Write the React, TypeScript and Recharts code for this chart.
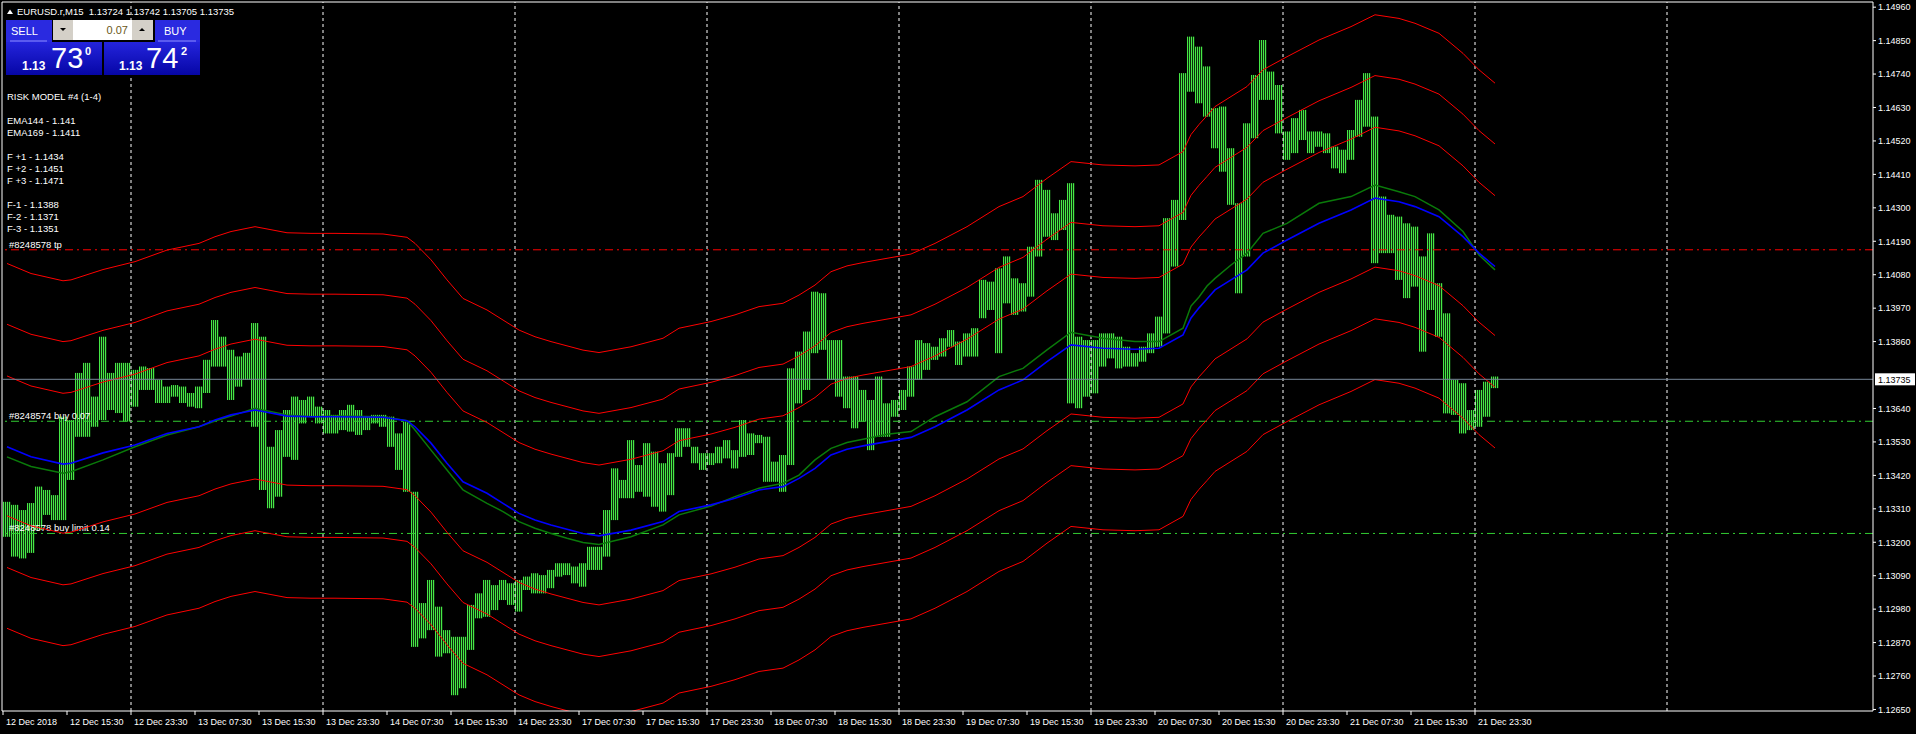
import React from 'react';
import { ComposedChart, Bar, Line, XAxis, YAxis, ReferenceLine } from 'recharts';

// ---- price samples (each sample = 4 consecutive M15 bars), high / low ----
const sampleHigh = [
  1.13333, 1.13323, 1.13306, 1.13329, 1.13383, 1.13372, 1.13355, 1.13613, 1.13602, 1.13757,
  1.13790, 1.13679, 1.13876, 1.13757, 1.13790, 1.13790, 1.13767, 1.13778, 1.13773, 1.13734,
  1.13712, 1.13717, 1.13712, 1.13691, 1.13712, 1.13800, 1.13931, 1.13876, 1.13833, 1.13811,
  1.13823, 1.13921, 1.13876, 1.13514, 1.13569, 1.13635, 1.13679, 1.13668, 1.13679, 1.13646,
  1.13635, 1.13619, 1.13635, 1.13652, 1.13635, 1.13613, 1.13619, 1.13619, 1.13613, 1.13558,
  1.13597, 1.13366, 1.13000, 1.13076, 1.12988, 1.12911, 1.12889, 1.12889, 1.12994, 1.13032,
  1.13076, 1.13059, 1.13076, 1.13065, 1.13076, 1.13087, 1.13098, 1.13092, 1.13109, 1.13131,
  1.13131, 1.13120, 1.13131, 1.13185, 1.13185, 1.13306, 1.13443, 1.13405, 1.13536, 1.13454,
  1.13526, 1.13498, 1.13460, 1.13493, 1.13575, 1.13575, 1.13514, 1.13493, 1.13493, 1.13514,
  1.13536, 1.13503, 1.13602, 1.13558, 1.13553, 1.13547, 1.13465, 1.13487, 1.13772, 1.13827,
  1.13893, 1.14024, 1.14019, 1.13865, 1.13865, 1.13745, 1.13745, 1.13701, 1.13668, 1.13745,
  1.13657, 1.13668, 1.13701, 1.13778, 1.13865, 1.13855, 1.13843, 1.13871, 1.13898, 1.13860,
  1.13887, 1.13904, 1.14063, 1.14057, 1.14101, 1.14140, 1.14068, 1.14052, 1.14172, 1.14392,
  1.14359, 1.14282, 1.14326, 1.14381, 1.13876, 1.13865, 1.13865, 1.13887, 1.13887, 1.13876,
  1.13843, 1.13822, 1.13843, 1.13887, 1.13942, 1.14266, 1.14326, 1.14743, 1.14863, 1.14830,
  1.14765, 1.14628, 1.14633, 1.14496, 1.14315, 1.14578, 1.14737, 1.14852, 1.14748, 1.14704,
  1.14551, 1.14595, 1.14622, 1.14551, 1.14551, 1.14545, 1.14501, 1.14491, 1.14556, 1.14655,
  1.14743, 1.14600, 1.14337, 1.14277, 1.14271, 1.14249, 1.14238, 1.14140, 1.14216, 1.14052,
  1.13953, 1.13734, 1.13723, 1.13635, 1.13701, 1.13728, 1.13745,
];
const sampleLow = [
  1.13218, 1.13153, 1.13147, 1.13165, 1.13240, 1.13290, 1.13273, 1.13273, 1.13405, 1.13547,
  1.13547, 1.13580, 1.13602, 1.13635, 1.13625, 1.13597, 1.13646, 1.13701, 1.13701, 1.13658,
  1.13658, 1.13679, 1.13658, 1.13646, 1.13641, 1.13691, 1.13778, 1.13778, 1.13668, 1.13712,
  1.13734, 1.13580, 1.13372, 1.13312, 1.13350, 1.13481, 1.13471, 1.13591, 1.13613, 1.13591,
  1.13558, 1.13558, 1.13569, 1.13564, 1.13553, 1.13569, 1.13591, 1.13580, 1.13514, 1.13438,
  1.13366, 1.12856, 1.12884, 1.12911, 1.12824, 1.12835, 1.12697, 1.12720, 1.12846, 1.12950,
  1.12955, 1.12977, 1.13010, 1.12994, 1.12972, 1.13043, 1.13032, 1.13032, 1.13049, 1.13087,
  1.13092, 1.13065, 1.13054, 1.13109, 1.13109, 1.13153, 1.13273, 1.13345, 1.13345, 1.13366,
  1.13350, 1.13317, 1.13301, 1.13355, 1.13481, 1.13514, 1.13460, 1.13438, 1.13454, 1.13460,
  1.13476, 1.13443, 1.13481, 1.13487, 1.13526, 1.13399, 1.13399, 1.13366, 1.13454, 1.13657,
  1.13701, 1.13822, 1.13833, 1.13734, 1.13679, 1.13641, 1.13575, 1.13597, 1.13503, 1.13547,
  1.13547, 1.13613, 1.13635, 1.13679, 1.13734, 1.13767, 1.13800, 1.13811, 1.13843, 1.13783,
  1.13811, 1.13811, 1.13937, 1.13964, 1.13822, 1.13986, 1.13948, 1.13959, 1.14008, 1.14140,
  1.14205, 1.14194, 1.14227, 1.13657, 1.13641, 1.13679, 1.13690, 1.13778, 1.13805, 1.13772,
  1.13778, 1.13778, 1.13794, 1.13822, 1.13843, 1.13887, 1.14107, 1.14260, 1.14682, 1.14644,
  1.14600, 1.14496, 1.14419, 1.14310, 1.14019, 1.14140, 1.14529, 1.14655, 1.14655, 1.14545,
  1.14458, 1.14480, 1.14523, 1.14480, 1.14501, 1.14480, 1.14430, 1.14414, 1.14458, 1.14534,
  1.14567, 1.14118, 1.14151, 1.14151, 1.14063, 1.14003, 1.14041, 1.13827, 1.13964, 1.13876,
  1.13624, 1.13619, 1.13558, 1.13569, 1.13580, 1.13613, 1.13707,
];

// ---- moving averages, read at selected sample positions ----
const emaSamples = [
  0, 3, 7, 8, 12, 16, 20, 24, 26, 28, 31, 32, 35, 38, 41, 47, 50, 51, 53, 55, 57, 60, 62, 64, 66,
  68, 70, 72, 74, 78, 82, 84, 88, 91, 94, 97, 99, 101, 103, 105, 107, 110, 113, 116, 120, 124,
  127, 130, 133, 137, 141, 144, 147, 148, 149, 150, 151, 153, 155, 157, 160, 164, 168, 171, 174,
  176, 179, 182, 184, 186,
];
const emaBlue = [
  1.13514, 1.13481, 1.13457, 1.13460, 1.13494, 1.13520, 1.13558, 1.13580, 1.13602, 1.13619,
  1.13635, 1.13630, 1.13615, 1.13613, 1.13613, 1.13611, 1.13600, 1.13580, 1.13526, 1.13460,
  1.13399, 1.13361, 1.13328, 1.13295, 1.13273, 1.13257, 1.13243, 1.13229, 1.13221, 1.13240,
  1.13268, 1.13301, 1.13323, 1.13345, 1.13372, 1.13383, 1.13410, 1.13443, 1.13487, 1.13506,
  1.13517, 1.13531, 1.13545, 1.13580, 1.13635, 1.13701, 1.13734, 1.13794, 1.13849, 1.13838,
  1.13835, 1.13838, 1.13882, 1.13938, 1.13971, 1.14000, 1.14030, 1.14063, 1.14096, 1.14151,
  1.14194, 1.14249, 1.14293, 1.14332, 1.14320, 1.14304, 1.14271, 1.14205, 1.14151, 1.14107,
];
const emaGreen = [
  1.13481, 1.13449, 1.13427, 1.13432, 1.13471, 1.13514, 1.13553, 1.13580, 1.13599, 1.13615,
  1.13641, 1.13635, 1.13619, 1.13613, 1.13615, 1.13613, 1.13600, 1.13569, 1.13503, 1.13438,
  1.13372, 1.13328, 1.13301, 1.13268, 1.13246, 1.13229, 1.13213, 1.13199, 1.13193, 1.13218,
  1.13257, 1.13290, 1.13319, 1.13350, 1.13378, 1.13394, 1.13421, 1.13471, 1.13509, 1.13528,
  1.13539, 1.13555, 1.13564, 1.13613, 1.13662, 1.13745, 1.13772, 1.13833, 1.13891, 1.13871,
  1.13860, 1.13860, 1.13904, 1.13977, 1.14007, 1.14043, 1.14068, 1.14112, 1.14151, 1.14216,
  1.14249, 1.14315, 1.14337, 1.14375, 1.14353, 1.14337, 1.14293, 1.14222, 1.14145, 1.14096,
];
// envelope levels relative to the average (F+3, F+2, F+1, F-1, F-2, F-3)
const bandOffsets = [0.00603, 0.00403, 0.00233, -0.00227, -0.00397, -0.00597];

// ---- axes ----
const timeLabels = [
  '12 Dec 2018', '12 Dec 15:30', '12 Dec 23:30', '13 Dec 07:30', '13 Dec 15:30', '13 Dec 23:30',
  '14 Dec 07:30', '14 Dec 15:30', '14 Dec 23:30', '17 Dec 07:30', '17 Dec 15:30', '17 Dec 23:30',
  '18 Dec 07:30', '18 Dec 15:30', '18 Dec 23:30', '19 Dec 07:30', '19 Dec 15:30', '19 Dec 23:30',
  '20 Dec 07:30', '20 Dec 15:30', '20 Dec 23:30', '21 Dec 07:30', '21 Dec 15:30', '21 Dec 23:30',
];
const timeTickIdx = timeLabels.map((_, n) => n * 32);
const gridIdx = [64, 160, 256, 352, 448, 544, 640, 736, 832];
const priceTicks = [
  1.1496, 1.1485, 1.1474, 1.1463, 1.1452, 1.1441, 1.143, 1.1419, 1.1408, 1.1397, 1.1386,
  1.1364, 1.1353, 1.1342, 1.1331, 1.132, 1.1309, 1.1298, 1.1287, 1.1276, 1.1265,
];

// ---- order levels & info ----
const tpLevel = 1.14162;
const buyLevel = 1.13598;
const buyLimitLevel = 1.13229;
const lastPrice = 1.13736;
const headerText = 'EURUSD.r,M15\u00A0\u00A01.13724\u00A01.13742\u00A01.13705\u00A01.13735';
const infoLines = [
  { t: 'RISK MODEL #4 (1-4)', y: 100 },
  { t: 'EMA144 - 1.141', y: 124 },
  { t: 'EMA169 - 1.1411', y: 136 },
  { t: 'F +1 - 1.1434', y: 160 },
  { t: 'F +2 - 1.1451', y: 172 },
  { t: 'F +3 - 1.1471', y: 184 },
  { t: 'F-1 - 1.1388', y: 208 },
  { t: 'F-2 - 1.1371', y: 220 },
  { t: 'F-3 - 1.1351', y: 232 },
];

const FONT = '"Liberation Sans", Arial, sans-serif';
const BAR_COLOR = '#46e846';
const BAR_FILL = '#32CD32';

const rows: any[] = sampleHigh.map((h, k) => ({ i: 4 * k + 2, hl: [sampleLow[k], h] }));
emaSamples.forEach((k, j) => {
  rows[k].blue = emaBlue[j];
  rows[k].green = emaGreen[j];
});

const StripeBar = (props: any) => {
  const { x, y, width, height } = props;
  if (x == null || y == null || isNaN(x) || isNaN(y)) return null;
  const top = height < 0 ? y + height : y;
  const h = Math.max(1, Math.abs(height));
  const cx = Math.round(x + width / 2);
  const out = [];
  out.push(<rect key="bg" x={cx - 4} y={top} width={8} height={h} fill={BAR_FILL} fillOpacity={0.22} />);
  for (let j = 0; j < 4; j++) {
    out.push(<rect key={j} x={cx - 4 + j * 2} y={top} width={1} height={h} fill={BAR_COLOR} />);
  }
  return <g>{out}</g>;
};

const XTick = (props: any) => {
  const { x, y, payload } = props;
  const n = Math.round(payload.value / 32);
  return (
    <text x={x + 3} y={y + 8} fill="#fff" fontSize={9} fontFamily={FONT} textAnchor="start">
      {timeLabels[n]}
    </text>
  );
};

const YTick = (props: any) => {
  const { x, y, payload } = props;
  return (
    <text x={x} y={y + 3.3} fill="#fff" fontSize={9} fontFamily={FONT} textAnchor="start">
      {Number(payload.value).toFixed(5)}
    </text>
  );
};

const OrderLabel = (props: any) => {
  const { viewBox, text } = props;
  if (!viewBox) return null;
  return (
    <text x={viewBox.x + 7} y={viewBox.y - 2} fill="#fff" fontSize={9.5} fontFamily={FONT}>
      {text}
    </text>
  );
};

const PriceBox = (props: any) => {
  const { viewBox, text } = props;
  if (!viewBox) return null;
  const x0 = viewBox.x + viewBox.width + 2;
  return (
    <g>
      <rect x={x0} y={viewBox.y - 6} width={40} height={12} fill="#fff" />
      <text x={x0 + 3} y={viewBox.y + 3.5} fill="#000" fontSize={9} fontFamily={FONT}>
        {text}
      </text>
    </g>
  );
};

const Overlay = () => (
  <svg
    width={1916}
    height={734}
    style={{ position: 'absolute', left: 0, top: 0, pointerEvents: 'none' }}
  >
    <defs>
      <linearGradient id="priceBlock" x1="0" y1="0" x2="0" y2="1">
        <stop offset="0" stopColor="#2424dc" />
        <stop offset="1" stopColor="#0606a6" />
      </linearGradient>
    </defs>
    {/* header */}
    <path d="M7 14 L10 9.5 L13 14 Z" fill="#fff" />
    <text x={17} y={15} fill="#fff" fontSize={9.5} fontFamily={FONT}>
      {headerText}
    </text>
    {/* one-click panel */}
    <rect x={6} y={20} width={46} height={22} fill="#2a2ae0" />
    <line x1={10} y1={41} x2={47} y2={41} stroke="#8c8cff" />
    <text x={11} y={35} fill="#fff" fontSize={11} fontFamily={FONT}>SELL</text>
    <rect x={155} y={20} width={45} height={22} fill="#2a2ae0" />
    <line x1={158} y1={41} x2={196} y2={41} stroke="#8c8cff" />
    <text x={164} y={35} fill="#fff" fontSize={11} fontFamily={FONT}>BUY</text>
    <rect x={53} y={20} width={20} height={20} fill="#d4d0c8" />
    <path d="M60 28 L66 28 L63 31 Z" fill="#000" />
    <rect x={73} y={20} width={59} height={20} fill="#fff" />
    <text x={128} y={34} fill="#6a5818" fontSize={11} fontFamily={FONT} textAnchor="end">0.07</text>
    <rect x={132} y={20} width={21} height={20} fill="#d4d0c8" />
    <path d="M139 31 L145 31 L142 28 Z" fill="#000" />
    <rect x={6} y={42} width={96} height={33} fill="url(#priceBlock)" />
    <rect x={104} y={42} width={96} height={33} fill="url(#priceBlock)" />
    <text x={22} y={70} fill="#fff" fontSize={12} fontWeight="bold" fontFamily={FONT}>1.13</text>
    <text x={51} y={68} fill="#fff" fontSize={29} fontFamily={FONT}>73</text>
    <text x={85} y={55} fill="#fff" fontSize={11} fontWeight="bold" fontFamily={FONT}>0</text>
    <text x={119} y={70} fill="#fff" fontSize={12} fontWeight="bold" fontFamily={FONT}>1.13</text>
    <text x={146} y={68} fill="#fff" fontSize={29} fontFamily={FONT}>74</text>
    <text x={181} y={55} fill="#fff" fontSize={11} fontWeight="bold" fontFamily={FONT}>2</text>
    {/* info block */}
    {infoLines.map((l) => (
      <text key={l.t} x={7} y={l.y} fill="#fff" fontSize={9.5} fontFamily={FONT}>
        {l.t}
      </text>
    ))}
  </svg>
);

export default function App() {
  return (
    <div style={{ position: 'absolute', left: 0, top: 0, width: 1916, height: 734, background: '#000' }}>
      <ComposedChart
        width={1916}
        height={734}
        data={rows}
        margin={{ top: 2, right: 0, left: 2, bottom: 0 }}
        style={{ background: '#000' }}
      >
        <XAxis
          type="number"
          dataKey="i"
          domain={[-0.5, 935]}
          ticks={timeTickIdx}
          interval={0}
          allowDataOverflow
          height={23}
          tickSize={4}
          axisLine={{ stroke: '#fff' }}
          tickLine={{ stroke: '#fff' }}
          tick={<XTick />}
        />
        <YAxis
          orientation="right"
          type="number"
          domain={[1.12645, 1.14977]}
          ticks={priceTicks}
          interval={0}
          allowDataOverflow
          width={43}
          tickSize={3}
          axisLine={{ stroke: '#fff' }}
          tickLine={{ stroke: '#fff' }}
          tick={<YTick />}
        />
        <ReferenceLine x={-0.5} stroke="#fff" />
        <ReferenceLine y={1.14977} stroke="#fff" />
        {gridIdx.map((g) => (
          <ReferenceLine key={'g' + g} x={g} stroke="#fff" strokeDasharray="3 3" />
        ))}
        <ReferenceLine
          y={tpLevel}
          stroke="#ff0000"
          strokeDasharray="8 4 2 4"
          label={<OrderLabel text="#8248578 tp" />}
        />
        <ReferenceLine
          y={buyLevel}
          stroke="#32CD32"
          strokeDasharray="8 4 2 4"
          label={<OrderLabel text="#8248574 buy 0.07" />}
        />
        <ReferenceLine
          y={buyLimitLevel}
          stroke="#32CD32"
          strokeDasharray="8 4 2 4"
          label={<OrderLabel text="#8248578 buy limit 0.14" />}
        />
        {bandOffsets.map((off, n) => (
          <Line
            key={'band' + n}
            dataKey={(d: any) => (d.blue == null ? null : d.blue + off)}
            stroke="#ff0000"
            strokeWidth={1}
            dot={false}
            connectNulls
            isAnimationActive={false}
          />
        ))}
        <Line dataKey="green" stroke="#0a7a0a" strokeWidth={1.5} dot={false} connectNulls isAnimationActive={false} />
        <Line dataKey="blue" stroke="#0000ff" strokeWidth={1.6} dot={false} connectNulls isAnimationActive={false} />
        <Bar dataKey="hl" barSize={8} shape={<StripeBar />} isAnimationActive={false} />
        <ReferenceLine y={lastPrice} stroke="#778899" label={<PriceBox text="1.13735" />} />
      </ComposedChart>
      <Overlay />
    </div>
  );
}
